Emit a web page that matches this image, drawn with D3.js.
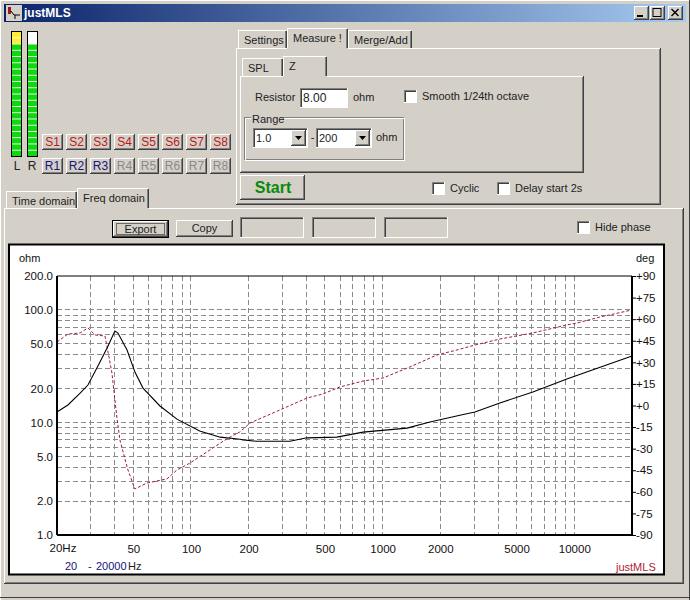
<!DOCTYPE html>
<html>
<head>
<meta charset="utf-8">
<title>justMLS</title>
<script src="https://cdnjs.cloudflare.com/ajax/libs/d3/7.8.5/d3.min.js"></script>
<style>
  html, body { margin: 0; padding: 0; background: #d4d0c8; overflow: hidden; }
  svg { display: block; }
  text { font-family: "Liberation Sans", Arial, sans-serif; font-size: 11px; fill: #222; }
</style>
</head>
<body>
<div id="app"></div>
<script>
// impedance magnitude
var zFreq = [20, 22.8, 26.4, 29, 32.3, 36.5, 40.1, 41.6, 46.4, 51, 56.2, 68.9, 84.5, 111, 142, 180,
  187, 221, 328, 403, 577, 790, 1340, 1766, 2530, 3030, 4090, 6080, 9140, 20000];
var zOhm = [12.4, 14.3, 18.2, 21.5, 30.4, 45.8, 64.9, 62.2, 44, 28, 20.2, 14, 10.7, 8.4, 7.4, 7.1,
  7.0, 6.8, 6.8, 7.3, 7.4, 8.2, 8.9, 10.1, 11.6, 12.4, 14.9, 18.6, 24.3, 38.9];

// phase
var phaseFreq = [20, 22.8, 26.4, 29, 31.6, 35.6, 36.5, 38.7, 40.1, 41.1, 42.6, 46.9, 51, 58.9, 75, 84.5, 98.8,
  121, 145, 160, 180, 203, 291, 403, 488, 599, 790, 1004, 1388, 1920, 2443, 3030, 4090, 6080, 9140, 10330, 13600, 20000];
var phaseDeg = [44.1, 49.7, 50.4, 53.9, 49, 48.3, 40.7, 22.6, 3.8, -8.7, -24, -44.8, -58, -53.9, -51, -44.8, -40,
  -32.3, -25.4, -21.9, -18.4, -12.2, -3.1, 5.2, 8, 12.9, 17, 19.1, 26.8, 35.1, 38.6, 42, 46.2, 50.4, 56, 57.3, 61.5, 66.4];

var freqGrid = [30, 40, 50, 60, 70, 80, 90, 100, 200, 300, 400, 500, 600, 700, 800, 900, 1000,
  2000, 3000, 4000, 5000, 6000, 7000, 8000, 9000, 10000];
var ohmGrid = [2, 3, 4, 5, 6, 7, 8, 9, 10, 20, 30, 40, 50, 60, 70, 80, 90, 100];
var freqTicks = [50, 100, 200, 500, 1000, 2000, 5000, 10000];
var ohmTicks = [1, 2, 5, 10, 20, 50, 100, 200];
var degTicks = [90, 75, 60, 45, 30, 15, 0, -15, -30, -45, -60, -75, -90];

var sendButtons = ['S1', 'S2', 'S3', 'S4', 'S5', 'S6', 'S7', 'S8'];
var recvButtons = ['R1', 'R2', 'R3', 'R4', 'R5', 'R6', 'R7', 'R8'];
var recvEnabled = 3;
var meterSegments = 20;
var meterLeftYellow = 2;
var meterRightBlank = 2;

var FACE = '#d4d0c8';
var LIGHT = '#ffffff';
var SHADOW = '#808080';
var DARK = '#404040';

var svg = d3.select('#app').append('svg').attr('width', 690).attr('height', 600);

var defs = svg.append('defs');
var titleGrad = defs.append('linearGradient').attr('id', 'titleGrad');
titleGrad.append('stop').attr('offset', '0%').attr('stop-color', '#0a246a');
titleGrad.append('stop').attr('offset', '100%').attr('stop-color', '#a6caf0');

function label(x, y, str, opts) {
  opts = opts || {};
  return svg.append('text').attr('x', x).attr('y', y)
    .attr('text-anchor', opts.anchor || 'start')
    .style('fill', opts.color || '#222')
    .style('font-size', opts.size || '11px')
    .style('font-weight', opts.weight || 'normal')
    .text(str);
}

function edge(x1, y1, x2, y2, color) {
  svg.append('line').attr('x1', x1).attr('y1', y1).attr('x2', x2).attr('y2', y2)
    .attr('stroke', color).attr('stroke-width', 1).attr('shape-rendering', 'crispEdges');
}

function fillBox(x, y, w, h, color) {
  return svg.append('rect').attr('x', x).attr('y', y).attr('width', w).attr('height', h).attr('fill', color);
}

function raised(x, y, w, h) {
  fillBox(x, y, w, h, FACE);
  edge(x, y + 0.5, x + w, y + 0.5, LIGHT);
  edge(x + 0.5, y, x + 0.5, y + h, LIGHT);
  edge(x, y + h - 0.5, x + w, y + h - 0.5, DARK);
  edge(x + w - 0.5, y, x + w - 0.5, y + h, DARK);
  edge(x + 1, y + h - 1.5, x + w - 1, y + h - 1.5, SHADOW);
  edge(x + w - 1.5, y + 1, x + w - 1.5, y + h - 1, SHADOW);
}

function sunken(x, y, w, h, color) {
  fillBox(x, y, w, h, color);
  edge(x, y + 0.5, x + w, y + 0.5, SHADOW);
  edge(x + 0.5, y, x + 0.5, y + h, SHADOW);
  edge(x, y + h - 0.5, x + w, y + h - 0.5, LIGHT);
  edge(x + w - 0.5, y, x + w - 0.5, y + h, LIGHT);
  edge(x + 1, y + 1.5, x + w - 1, y + 1.5, DARK);
  edge(x + 1.5, y + 1, x + 1.5, y + h - 1, DARK);
}

function tab(x, y, w, h, str, active) {
  fillBox(x, y, w, h + (active ? 1 : 0), FACE);
  edge(x, y + 0.5, x + w - 1, y + 0.5, LIGHT);
  edge(x + 0.5, y, x + 0.5, y + h, LIGHT);
  edge(x + w - 0.5, y + 1, x + w - 0.5, y + h, DARK);
  edge(x + w - 1.5, y + 1, x + w - 1.5, y + h, SHADOW);
  label(x + 6, y + 14, str);
}

function checkbox(x, y, str) {
  sunken(x, y, 13, 13, '#ffffff');
  if (str) label(x + 18, y + 10, str);
}

function combo(x, y, w, str) {
  sunken(x, y, w, 20, '#ffffff');
  label(x + 3, y + 14, str);
  raised(x + w - 17, y + 2, 15, 16);
  svg.append('path').attr('fill', '#000')
    .attr('d', 'M' + (x + w - 13) + ',' + (y + 8) + 'h7l-3.5,4z');
}

// window frame and title bar
fillBox(0, 0, 690, 600, FACE);
edge(0, 0.5, 690, 0.5, LIGHT);
edge(0.5, 0, 0.5, 600, LIGHT);
edge(689.5, 0, 689.5, 600, DARK);
edge(0, 597.5, 690, 597.5, DARK);
fillBox(4, 4, 682, 18, 'url(#titleGrad)');
fillBox(6, 5, 16, 16, '#d4d0c8');
svg.append('path').attr('d', 'M8,7h3v7h-3z').attr('fill', '#a01818');
svg.append('path').attr('d', 'M11,11l3,4h6M15,15v4').attr('fill', 'none').attr('stroke', '#000');
label(24, 17, 'justMLS', { color: '#fff', weight: 'bold', size: '12px' });
[634, 650, 668].forEach(function(x) { raised(x, 6, 15, 14); });
svg.append('path').attr('d', 'M637,16h6').attr('stroke', '#000').attr('stroke-width', 2);
svg.append('rect').attr('x', 653).attr('y', 8.5).attr('width', 8).attr('height', 8)
  .attr('fill', 'none').attr('stroke', '#000');
svg.append('path').attr('d', 'M671.5,9l7,7M678.5,9l-7,7').attr('stroke', '#000').attr('stroke-width', 1.4);

// level meters
function meter(x, yellow, blank) {
  fillBox(x, 31, 11, 126, '#000');
  fillBox(x + 1, 32, 9, 124, '#fff');
  var seg = d3.scaleBand().domain(d3.range(meterSegments)).range([32, 156]).paddingInner(0.14);
  svg.append('g').selectAll('rect').data(d3.range(blank, meterSegments)).enter().append('rect')
    .attr('x', x + 1).attr('width', 9)
    .attr('y', function(d) { return seg(d); })
    .attr('height', seg.bandwidth())
    .attr('fill', function(d) { return d < yellow ? '#ffee33' : '#10d810'; });
}
meter(11, meterLeftYellow, 0);
meter(27, 0, meterRightBlank);
label(17, 170, 'L', { anchor: 'middle', size: '12px' });
label(32, 170, 'R', { anchor: 'middle', size: '12px' });

// S / R channel buttons
var channelX = d3.scaleBand().domain(d3.range(8)).range([42, 234]);
sendButtons.forEach(function(s, i) {
  raised(channelX(i), 134, 21, 16);
  label(channelX(i) + 10.5, 146, s, { anchor: 'middle', color: '#c01818', size: '12px' });
});
recvButtons.forEach(function(s, i) {
  raised(channelX(i), 158, 21, 16);
  label(channelX(i) + 10.5, 170, s, { anchor: 'middle', color: i < recvEnabled ? '#14147a' : '#8a8a8a', size: '12px' });
});

// measure panel
raised(236, 48, 425, 157);
tab(238, 30, 49, 18, 'Settings', false);
tab(348, 30, 64, 18, 'Merge/Add', false);
tab(287, 28, 61, 20, 'Measure !', true);

raised(240, 76, 344, 97);
tab(242, 58, 41, 18, 'SPL', false);
tab(283, 56, 44, 20, 'Z', true);

label(255, 101, 'Resistor');
sunken(300, 88, 48, 20, '#ffffff');
label(303, 102, '8.00', { size: '12px' });
label(353, 101, 'ohm');
checkbox(404, 90, 'Smooth 1/24th octave');

svg.append('rect').attr('x', 244.5).attr('y', 117.5).attr('width', 159).attr('height', 42)
  .attr('fill', 'none').attr('stroke', SHADOW);
svg.append('rect').attr('x', 245.5).attr('y', 118.5).attr('width', 159).attr('height', 42)
  .attr('fill', 'none').attr('stroke', LIGHT);
fillBox(251, 112, 31, 10, FACE);
label(252, 123, 'Range');
combo(253, 128, 55, '1.0');
label(312.5, 141, '-', { anchor: 'middle' });
combo(316, 128, 56, '200');
label(376, 141, 'ohm');

raised(240, 175, 65, 25);
label(273, 193, 'Start', { anchor: 'middle', color: '#0a8a0a', weight: 'bold', size: '16px' });
checkbox(432, 182, 'Cyclic');
checkbox(497, 182, 'Delay start 2s');

// freq domain page
raised(4, 208, 680, 376);
tab(6, 191, 71, 17, 'Time domain', false);
tab(77, 188, 72, 20, 'Freq domain', true);

fillBox(112, 220, 57, 18, '#000');
raised(113, 221, 55, 16);
svg.append('rect').attr('x', 116.5).attr('y', 223.5).attr('width', 48).attr('height', 11)
  .attr('fill', 'none').attr('stroke', '#000').attr('stroke-dasharray', '1,1');
label(140.5, 233, 'Export', { anchor: 'middle' });
raised(176, 220, 57, 17);
label(204.5, 232, 'Copy', { anchor: 'middle' });
sunken(240, 217, 64, 21, FACE);
sunken(312, 217, 64, 21, FACE);
sunken(384, 217, 64, 21, FACE);
checkbox(577, 221, 'Hide phase');

// chart surface
svg.append('rect').attr('x', 9).attr('y', 244.5).attr('width', 655).attr('height', 330)
  .attr('fill', '#fff').attr('stroke', '#000').attr('stroke-width', 2);

var PLOT = { left: 57, right: 632, top: 276, bottom: 535 };

var x = d3.scaleLog().domain([20, 20000]).range([PLOT.left, PLOT.right]);
var yOhm = d3.scaleLog().domain([1, 200]).range([PLOT.bottom, PLOT.top]);
var yDeg = d3.scaleLinear().domain([-90, 90]).range([PLOT.bottom, PLOT.top]);

var grid = svg.append('g')
  .attr('fill', 'none')
  .attr('stroke', '#8a8a8a')
  .attr('stroke-width', 1)
  .attr('stroke-dasharray', '5,3')
  .attr('shape-rendering', 'crispEdges');

grid.selectAll('.vgrid').data(freqGrid).enter().append('line')
  .attr('class', 'vgrid')
  .attr('x1', x).attr('x2', x)
  .attr('y1', PLOT.top).attr('y2', PLOT.bottom);

grid.selectAll('.hgrid').data(ohmGrid).enter().append('line')
  .attr('class', 'hgrid')
  .attr('y1', yOhm).attr('y2', yOhm)
  .attr('x1', PLOT.left).attr('x2', PLOT.right);

var zLine = d3.line()
  .x(function(d) { return x(zFreq[d]); })
  .y(function(d) { return yOhm(zOhm[d]); });
var phaseLine = d3.line()
  .x(function(d) { return x(phaseFreq[d]); })
  .y(function(d) { return yDeg(phaseDeg[d]); });

svg.append('path').attr('d', phaseLine(d3.range(phaseFreq.length)))
  .attr('fill', 'none').attr('stroke', '#a01c34').attr('stroke-width', 1).attr('stroke-dasharray', '3,2');
svg.append('path').attr('d', zLine(d3.range(zFreq.length)))
  .attr('fill', 'none').attr('stroke', '#000').attr('stroke-width', 1.1);

// plot frame
svg.append('line').attr('x1', PLOT.left).attr('x2', PLOT.right).attr('y1', PLOT.top).attr('y2', PLOT.top)
  .attr('stroke', '#000');
svg.append('line').attr('x1', PLOT.left).attr('x2', PLOT.right + 1).attr('y1', PLOT.bottom).attr('y2', PLOT.bottom)
  .attr('stroke', '#000').attr('stroke-width', 2);
svg.append('line').attr('x1', PLOT.left).attr('x2', PLOT.left).attr('y1', PLOT.top).attr('y2', PLOT.bottom)
  .attr('stroke', '#000').attr('stroke-width', 2);
svg.append('line').attr('x1', PLOT.right).attr('x2', PLOT.right).attr('y1', PLOT.top).attr('y2', PLOT.bottom)
  .attr('stroke', '#000').attr('stroke-width', 2);

// axes
var axisLeft = d3.axisLeft(yOhm).tickValues(ohmTicks).tickSize(0).tickPadding(4)
  .tickFormat(function(d) { return d.toFixed(1); });
var axisRight = d3.axisRight(yDeg).tickValues(degTicks).tickSize(4).tickPadding(0)
  .tickFormat(function(d) { return d > 0 ? '+' + d : (d === 0 ? '+0' : String(d)); });
var axisBottom = d3.axisBottom(x).tickValues(freqTicks).tickSize(0).tickPadding(10)
  .tickFormat(function(d) { return String(d); });

[[axisLeft, 'translate(' + PLOT.left + ',0)'],
 [axisRight, 'translate(' + PLOT.right + ',0)'],
 [axisBottom, 'translate(0,' + PLOT.bottom + ')']].forEach(function(a) {
  var g = svg.append('g').attr('transform', a[1]).call(a[0]);
  g.select('.domain').remove();
  g.selectAll('text').style('fill', '#111').style('font-size', '11.5px')
    .style('font-family', '"Liberation Sans", Arial, sans-serif');
  g.selectAll('line').attr('stroke', '#000');
});

label(63, 552, '20Hz', { anchor: 'middle', color: '#111', size: '11.5px' });
label(19, 262, 'ohm', { color: '#111' });
label(636, 262, 'deg', { color: '#111' });

label(65, 570, '20', { color: '#14147a' });
label(88, 570, '-', { color: '#14147a' });
label(96, 570, '20000', { color: '#14147a' });
label(128, 570, 'Hz', { color: '#222' });
label(616, 571, 'justMLS', { color: '#b01c34' });
</script>
</body>
</html>
